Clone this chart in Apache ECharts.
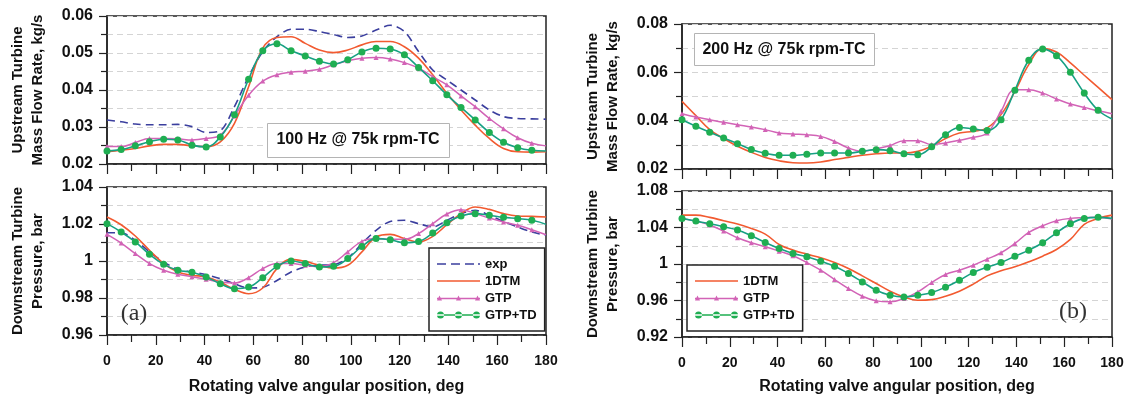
<!DOCTYPE html>
<html>
<head>
<meta charset="utf-8">
<script src="https://cdn.jsdelivr.net/npm/echarts@6/dist/echarts.min.js"></script>
<style>
html,body{margin:0;padding:0;background:#fff;}
#chart{width:1131px;height:399px;}
</style>
</head>
<body>
<div id="chart"></div>
<script>
// Angular positions (deg) of the sampled points
const angles = [0, 5.81, 11.61, 17.42, 23.23, 29.03, 34.84, 40.65, 46.45, 52.26, 58.06, 63.87, 69.68, 75.48, 81.29, 87.1, 92.9, 98.71, 104.52, 110.32, 116.13, 121.94, 127.74, 133.55, 139.35, 145.16, 150.97, 156.77, 162.58, 168.39, 174.19, 180];
const xTicks = [0, 20, 40, 60, 80, 100, 120, 140, 160, 180];

// (a) 100 Hz – upstream mass flow rate, kg/s
const aFlowExp  = [0.0319,0.0314,0.0308,0.0306,0.0306,0.0307,0.0301,0.0285,0.0290,0.0355,0.0436,0.0504,0.0544,0.0564,0.0564,0.0558,0.0550,0.0542,0.0546,0.0562,0.0575,0.0558,0.0504,0.0454,0.0427,0.0400,0.0373,0.0346,0.0328,0.0323,0.0322,0.0321];
const aFlow1D   = [0.0233,0.0237,0.0242,0.0249,0.0253,0.0253,0.0249,0.0247,0.0260,0.0310,0.0409,0.0513,0.0542,0.0544,0.0526,0.0508,0.0501,0.0508,0.0522,0.0531,0.0531,0.0517,0.0486,0.0441,0.0391,0.0346,0.0305,0.0269,0.0242,0.0233,0.0232,0.0233];
const aFlowGTP  = [0.0247,0.0247,0.0258,0.0269,0.0269,0.0268,0.0265,0.0269,0.0278,0.0330,0.0386,0.0424,0.0441,0.0448,0.0451,0.0456,0.0468,0.0479,0.0486,0.0488,0.0484,0.0474,0.0459,0.0436,0.0414,0.0384,0.0355,0.0323,0.0295,0.0271,0.0256,0.0249];
const aFlowTD   = [0.0235,0.0239,0.0249,0.0260,0.0267,0.0265,0.0251,0.0246,0.0273,0.0333,0.0429,0.0506,0.0525,0.0506,0.0492,0.0478,0.0470,0.0482,0.0503,0.0513,0.0511,0.0495,0.0461,0.0425,0.0387,0.0353,0.0319,0.0285,0.0259,0.0244,0.0237,0.0235];

// (a) 100 Hz – downstream pressure, bar
const aPresExp  = [1.0153,1.0153,1.0112,1.0049,0.9995,0.9955,0.9941,0.9926,0.9905,0.9877,0.9854,0.9858,0.9895,0.9941,0.9968,0.9977,0.9980,1.0016,1.0094,1.0166,1.0214,1.0220,1.0202,1.0184,1.0220,1.0256,1.0274,1.0247,1.0214,1.0184,1.0157,1.0139];
const aPres1D   = [1.0238,1.0196,1.0135,1.0058,0.9986,0.9941,0.9923,0.9914,0.9886,0.9847,0.9823,0.9854,0.9959,1.0009,0.9998,0.9977,0.9962,0.9977,1.0049,1.0130,1.0144,1.0121,1.0103,1.0133,1.0196,1.0256,1.0292,1.0279,1.0256,1.0243,1.0241,1.0238];
const aPresGTP  = [1.0144,1.0097,1.0040,0.9986,0.9950,0.9928,0.9915,0.9901,0.9886,0.9881,0.9910,0.9959,0.9986,0.9986,0.9977,0.9969,0.9991,1.0049,1.0106,1.0121,1.0117,1.0117,1.0148,1.0202,1.0254,1.0277,1.0256,1.0232,1.0211,1.0193,1.0169,1.0142];
const aPresTD   = [1.0202,1.0157,1.0103,1.0036,0.9982,0.9950,0.9939,0.9914,0.9877,0.9850,0.9859,0.9910,0.9971,1.0000,0.9986,0.9968,0.9971,1.0013,1.0079,1.0121,1.0115,1.0099,1.0106,1.0151,1.0207,1.0243,1.0256,1.0247,1.0236,1.0229,1.0220,1.0198];

// (b) 200 Hz – upstream mass flow rate, kg/s
const bFlow1D   = [0.0480,0.0421,0.0363,0.0326,0.0294,0.0269,0.0248,0.0234,0.0226,0.0225,0.0229,0.0239,0.0248,0.0257,0.0263,0.0266,0.0266,0.0273,0.0294,0.0326,0.0349,0.0356,0.0370,0.0425,0.0521,0.0632,0.0698,0.0684,0.0639,0.0588,0.0538,0.0487];
const bFlowGTP  = [0.0429,0.0415,0.0404,0.0393,0.0383,0.0374,0.0363,0.0349,0.0345,0.0342,0.0335,0.0314,0.0287,0.0273,0.0284,0.0297,0.0317,0.0317,0.0301,0.0308,0.0319,0.0331,0.0349,0.0439,0.0528,0.0528,0.0514,0.0490,0.0469,0.0455,0.0441,0.0429];
const bFlowTD   = [0.0404,0.0377,0.0352,0.0328,0.0305,0.0281,0.0265,0.0257,0.0257,0.0261,0.0266,0.0266,0.0266,0.0273,0.0280,0.0276,0.0263,0.0259,0.0292,0.0342,0.0372,0.0366,0.0359,0.0404,0.0526,0.0650,0.0697,0.0669,0.0600,0.0514,0.0443,0.0407];

// (b) 200 Hz – downstream pressure, bar
const bPres1D   = [1.0536,1.0536,1.0511,1.0474,1.0438,1.0390,1.0328,1.0214,1.0152,1.0108,1.0068,1.0016,0.9951,0.9870,0.9786,0.9702,0.9639,0.9603,0.9610,0.9647,0.9702,0.9779,0.9870,0.9925,0.9969,1.0024,1.0086,1.0159,1.0269,1.0434,1.0500,1.0536];
const bPresGTP  = [1.0500,1.0470,1.0427,1.0361,1.0287,1.0232,1.0189,1.0141,1.0090,1.0016,0.9932,0.9830,0.9731,0.9647,0.9596,0.9585,0.9621,0.9694,0.9797,0.9885,0.9932,0.9987,1.0053,1.0123,1.0225,1.0346,1.0419,1.0474,1.0500,1.0507,1.0511,1.0492];
const bPresTD   = [1.0500,1.0470,1.0441,1.0408,1.0372,1.0309,1.0236,1.0170,1.0115,1.0079,1.0031,0.9976,0.9896,0.9804,0.9713,0.9658,0.9639,0.9658,0.9687,0.9746,0.9822,0.9907,0.9965,1.0016,1.0086,1.0152,1.0233,1.0342,1.0441,1.0500,1.0511,1.0500];

const seriesNames = ['exp', '1DTM', 'GTP', 'GTP+TD'];
const titleA = '100 Hz @ 75k rpm-TC';
const titleB = '200 Hz @ 75k rpm-TC';
const xName = 'Rotating valve angular position, deg';
const yNameFlow = 'Upstream Turbine\nMass Flow Rate, kg/s';
const yNamePres = 'Downstream Turbine\nPressure, bar';

const C = { exp:'#3b3f9e', d1:'#f25a30', gtp:'#d263b6', tdLine:'#17a084', tdMark:'#1fae52' };
const FONT = 'Liberation Sans, Arial, sans-serif';

function pairs(ys, marked) {
  return ys.map((y, i) => {
    const v = [angles[i], y];
    if (marked && i === ys.length - 1) return { value: v, symbol: 'none' };
    return v;
  });
}

function mk(kind, gi, ys) {
  const base = { type:'line', xAxisIndex:gi, yAxisIndex:gi, smooth:0.4, animation:false, silent:true };
  if (kind === 'exp') return Object.assign(base, { name:'exp', data:pairs(ys), symbol:'none', smooth:0.3,
      lineStyle:{ color:C.exp, width:1.6, type:[8,5] }, itemStyle:{ color:C.exp } });
  if (kind === '1d') return Object.assign(base, { name:'1DTM', data:pairs(ys), symbol:'none',
      lineStyle:{ color:C.d1, width:1.6 }, itemStyle:{ color:C.d1 } });
  if (kind === 'gtp') return Object.assign(base, { name:'GTP', data:pairs(ys, true), symbol:'triangle', symbolSize:5,
      lineStyle:{ color:C.gtp, width:1.5 }, itemStyle:{ color:C.gtp, borderWidth:0 } });
  return Object.assign(base, { name:'GTP+TD', data:pairs(ys, true), symbol:'circle', symbolSize:7,
      lineStyle:{ color:C.tdLine, width:1.6 }, itemStyle:{ color:C.tdMark, borderWidth:0 } });
}

const axisLine = { show:true, lineStyle:{ color:'#222', width:1.5 } };
const tickStyle = { color:'#222', width:1.2 };
const gridLineStyle = { color:'#d4d4d4', width:1, type:[6,4] };

function xAx(gi, showLabel, gap) {
  return {
    type:'value', gridIndex:gi, min:xTicks[0], max:xTicks[xTicks.length-1], interval:xTicks[1]-xTicks[0],
    axisLine, axisTick:{ show:true, length:10, lineStyle:tickStyle },
    minorTick:{ show:true, splitNumber:2, length:7, lineStyle:tickStyle },
    splitLine:{ show:false },
    axisLabel:{ show:showLabel, margin:19, fontFamily:FONT, fontWeight:'bold', fontSize:14, color:'#111' },
    name: showLabel ? xName : '', nameLocation:'middle', nameGap:gap,
    nameTextStyle:{ fontFamily:FONT, fontWeight:'bold', fontSize:16, color:'#111' }
  };
}
function yAx(gi, min, max, interval, name) {
  return {
    type:'value', gridIndex:gi, min, max, interval,
    axisLine, axisTick:{ show:true, length:8, lineStyle:tickStyle },
    minorTick:{ show:true, splitNumber:2, length:6, lineStyle:tickStyle },
    splitLine:{ show:true, lineStyle:gridLineStyle },
    minorSplitLine:{ show:true, lineStyle:gridLineStyle },
    axisLabel:{ margin:14, fontFamily:FONT, fontWeight:'bold', fontSize:16, color:'#111' },
    name, nameLocation:'middle', nameGap:59,
    nameTextStyle:{ fontFamily:FONT, fontWeight:'bold', fontSize:15, lineHeight:20, color:'#111' }
  };
}

const gridBase = { show:true, borderColor:'#222', borderWidth:1.5, containLabel:false, outerBoundsMode:'none' };

const iconExp = 'path://M0,0H9V1.6H0Z M14,0H23V1.6H14Z M28,0H37V1.6H28Z M41,0H43V1.6H41Z';
const icon1D  = 'path://M0,0H43V1.6H0Z';
const iconTD  = 'path://M0,2.75H43V4.25H0Z M0,3.5a3.5,3.5 0 1,0 7,0a3.5,3.5 0 1,0 -7,0Z M18,3.5a3.5,3.5 0 1,0 7,0a3.5,3.5 0 1,0 -7,0Z M36,3.5a3.5,3.5 0 1,0 7,0a3.5,3.5 0 1,0 -7,0Z';
const iconGTP = 'path://M0,3.25H43V4.75H0Z M0,6L2.5,1.2L5,6Z M19,6L21.5,1.2L24,6Z M38,6L40.5,1.2L43,6Z';
const icons = { 'exp':iconExp, '1DTM':icon1D, 'GTP':iconGTP, 'GTP+TD':iconTD };

const legendText = { fontFamily:FONT, fontWeight:'bold', fontSize:13, color:'#111', lineHeight:14 };
function legend(left, top, names) {
  return {
    orient:'vertical', left, top, itemWidth:43, itemHeight:8, itemGap:3,
    padding:[9,8,9,8], borderColor:'#222', borderWidth:1.5, backgroundColor:'#fff',
    textStyle:legendText, selectedMode:false,
    data: names.map(n => ({ name:n, icon:icons[n] }))
  };
}

const option = {
  backgroundColor:'#fff',
  animation:false,
  grid:[
    Object.assign({ left:107, top:16, width:439, height:148 }, gridBase),
    Object.assign({ left:107, top:187, width:439, height:148 }, gridBase),
    Object.assign({ left:682, top:24, width:430, height:145 }, gridBase),
    Object.assign({ left:682, top:191, width:430, height:146 }, gridBase)
  ],
  xAxis:[ xAx(0,false,0), xAx(1,true,44), xAx(2,false,0), xAx(3,true,42) ],
  yAxis:[
    yAx(0, 0.02, 0.06, 0.01, yNameFlow),
    yAx(1, 0.96, 1.04, 0.02, yNamePres),
    yAx(2, 0.02, 0.08, 0.02, yNameFlow),
    yAx(3, 0.92, 1.08, 0.04, yNamePres)
  ],
  legend:[ legend(429, 248, seriesNames), legend(687, 265, seriesNames.slice(1)) ],
  series:[
    mk('exp',0,aFlowExp), mk('1d',0,aFlow1D), mk('gtp',0,aFlowGTP), mk('td',0,aFlowTD),
    mk('exp',1,aPresExp), mk('1d',1,aPres1D), mk('gtp',1,aPresGTP), mk('td',1,aPresTD),
    mk('1d',2,bFlow1D), mk('gtp',2,bFlowGTP), mk('td',2,bFlowTD),
    mk('1d',3,bPres1D), mk('gtp',3,bPresGTP), mk('td',3,bPresTD)
  ],
  graphic:[
    { type:'rect', left:267, top:123, shape:{ width:182, height:34 }, style:{ fill:'#fff', stroke:'#b4b4b4', lineWidth:1 }, z:50 },
    { type:'text', x:358, y:140, style:{ text:titleA, fontFamily:FONT, fontWeight:'bold', fontSize:16, fill:'#111', align:'center', verticalAlign:'middle' }, z:51 },
    { type:'rect', left:694, top:33, shape:{ width:180, height:32 }, style:{ fill:'#fff', stroke:'#b4b4b4', lineWidth:1 }, z:50 },
    { type:'text', x:784, y:50, style:{ text:titleB, fontFamily:FONT, fontWeight:'bold', fontSize:16, fill:'#111', align:'center', verticalAlign:'middle' }, z:51 },
    { type:'text', x:134, y:314, style:{ text:'(a)', fontFamily:'Liberation Serif, Times New Roman, serif', fontSize:24, fill:'#333', align:'center', verticalAlign:'middle' }, z:51 },
    { type:'text', x:1073, y:312, style:{ text:'(b)', fontFamily:'Liberation Serif, Times New Roman, serif', fontSize:24, fill:'#333', align:'center', verticalAlign:'middle' }, z:51 }
  ]
};

const chart = echarts.init(document.getElementById('chart'), null, { renderer:'canvas' });
chart.setOption(option);
</script>
</body>
</html>
